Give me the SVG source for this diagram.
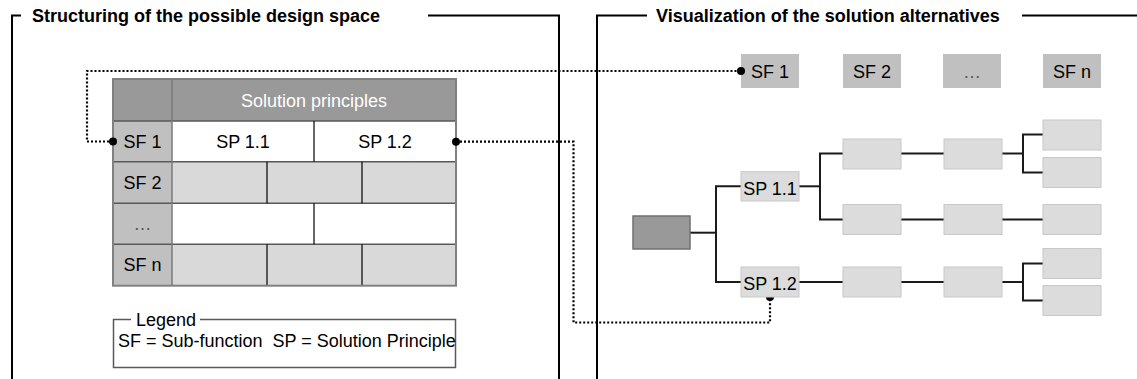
<svg xmlns="http://www.w3.org/2000/svg" width="1137" height="379" viewBox="0 0 1137 379">
<style>
text{font-family:"Liberation Sans",Arial,sans-serif;font-size:18px;fill:#000}
.title{font-weight:bold}
.frame{fill:none;stroke:#000;stroke-width:2}
.sfc{fill:#c0c0c0}
.hdr{fill:#999}
.gc{fill:#d9d9d9}
.wc{fill:#fff}
.rowl{stroke:#595959;stroke-width:1.5}
.split{stroke:#000;stroke-width:1.2}
.sfbox{fill:#c0c0c0}
.tb{fill:#dcdcdc;stroke:#c8c8c8;stroke-width:1}
.dark{fill:#999;stroke:#707070;stroke-width:1.5}
.con{fill:none;stroke:#1a1a1a;stroke-width:2}
.dot{fill:none;stroke:#000;stroke-width:2.2;stroke-dasharray:2 2}
.c{text-anchor:middle}
.ell{fill:#555}
</style>

<g id="frame-left">
<polyline class="frame" points="21,15.5 12,15.5 12,379"/>
<polyline class="frame" points="428,15.5 559,15.5 559,379"/>
<text class="title" x="32" y="22">Structuring of the possible design space</text>
</g>

<g id="frame-right">
<polyline class="frame" points="647,15.5 597,15.5 597,379"/>
<line class="frame" x1="1022" y1="15.5" x2="1137" y2="15.5"/>
<text class="title" x="656" y="22">Visualization of the solution alternatives</text>
</g>

<g id="table">
<rect class="hdr" x="113" y="79" width="343" height="42"/>
<rect class="sfc" x="113" y="121" width="59" height="164.7"/>
<rect class="wc" x="172" y="121" width="284" height="40.7"/>
<rect class="gc" x="172" y="161.7" width="284" height="41.6"/>
<rect class="wc" x="172" y="203.3" width="284" height="41"/>
<rect class="gc" x="172" y="244.3" width="284" height="41.4"/>
<line class="rowl" x1="113" y1="121" x2="456" y2="121"/>
<line class="rowl" x1="113" y1="161.7" x2="456" y2="161.7"/>
<line class="rowl" x1="113" y1="203.3" x2="456" y2="203.3"/>
<line class="rowl" x1="113" y1="244.3" x2="456" y2="244.3"/>
<line x1="172" y1="79" x2="172" y2="285.7" stroke="#7a7a7a" stroke-width="1.5"/>
<line class="split" x1="314" y1="121" x2="314" y2="161.7"/>
<line class="split" x1="267" y1="161.7" x2="267" y2="203.3"/>
<line class="split" x1="362" y1="161.7" x2="362" y2="203.3"/>
<line class="split" x1="314" y1="203.3" x2="314" y2="244.3"/>
<line class="split" x1="267" y1="244.3" x2="267" y2="285.7"/>
<line class="split" x1="362" y1="244.3" x2="362" y2="285.7"/>
<rect x="113" y="79" width="343" height="206.7" fill="none" stroke="#808080" stroke-width="2"/>
<text class="c" x="314" y="106.5" style="fill:#fff">Solution principles</text>
<text class="c" x="142.5" y="148">SF 1</text>
<text class="c" x="243" y="148">SP 1.1</text>
<text class="c" x="385" y="148">SP 1.2</text>
<text class="c" x="142.5" y="189">SF 2</text>
<text class="c ell" x="142.5" y="230">…</text>
<text class="c" x="142.5" y="271">SF n</text>
</g>

<g id="legend">
<polyline points="131,319.5 113.5,319.5 113.5,367.5 455.5,367.5 455.5,319.5 200,319.5" fill="none" stroke="#595959" stroke-width="1.5"/>
<text x="136" y="326">Legend</text>
<text x="118" y="347" xml:space="preserve">SF = Sub-function  SP = Solution Principle</text>
</g>

<g id="sf-row">
<g id="sf1"><rect class="sfbox" x="741" y="54" width="58" height="34"/><text class="c" x="770" y="78">SF 1</text></g>
<g id="sf2"><rect class="sfbox" x="843" y="54" width="58" height="34"/><text class="c" x="872" y="78">SF 2</text></g>
<g id="sfdots"><rect class="sfbox" x="943" y="54" width="58" height="34"/><text class="c ell" x="972" y="78">…</text></g>
<g id="sfn"><rect class="sfbox" x="1043" y="54" width="58" height="34"/><text class="c" x="1072" y="78">SF n</text></g>
</g>

<g id="connectors">
<polyline class="con" points="690,232.7 716,232.7"/>
<polyline class="con" points="741,186.3 716,186.3 716,282 741,282"/>
<polyline class="con" points="799,186.3 820,186.3"/>
<polyline class="con" points="843,153.5 820,153.5 820,219.5 843,219.5"/>
<line class="con" x1="901" y1="153.5" x2="944" y2="153.5"/>
<line class="con" x1="1002" y1="153.5" x2="1023" y2="153.5" stroke-width="2.5"/>
<polyline class="con" points="1043,134.5 1023,134.5 1023,172.5 1043,172.5"/>
<line class="con" x1="901" y1="219.5" x2="944" y2="219.5"/>
<line class="con" x1="1002" y1="219.5" x2="1043" y2="219.5"/>
<line class="con" x1="799" y1="282" x2="843" y2="282"/>
<line class="con" x1="901" y1="282" x2="944" y2="282"/>
<line class="con" x1="1002" y1="282" x2="1023" y2="282" stroke-width="2.5"/>
<polyline class="con" points="1043,263.5 1023,263.5 1023,300.5 1043,300.5"/>
<polyline class="dot" points="113,141.5 87,141.5 87,71 741,71"/>
<polyline class="dot" points="456,141.7 573.5,141.7 573.5,322.5 770,322.5 770,297"/>
<circle cx="113" cy="141.5" r="4"/>
<circle cx="741" cy="71" r="4"/>
<circle cx="456" cy="141.7" r="4"/>
<circle cx="770" cy="297" r="4"/>
</g>

<g id="tree-root"><rect class="dark" x="633" y="216" width="57" height="33"/></g>
<g id="sp11"><rect class="tb" x="741" y="171.7" width="58" height="29.3"/><text class="c" x="770" y="194.5">SP 1.1</text></g>
<g id="sp12"><rect class="tb" x="741" y="267" width="58" height="30"/><text class="c" x="770" y="290">SP 1.2</text></g>
<g id="n-a2"><rect class="tb" x="843" y="139" width="58" height="30"/></g>
<g id="n-a3"><rect class="tb" x="944" y="139" width="58" height="30"/></g>
<g id="n-a4"><rect class="tb" x="1043" y="120" width="58" height="30"/></g>
<g id="n-a5"><rect class="tb" x="1043" y="157.5" width="58" height="30"/></g>
<g id="n-b2"><rect class="tb" x="843" y="204.5" width="58" height="30"/></g>
<g id="n-b3"><rect class="tb" x="944" y="204.5" width="58" height="30"/></g>
<g id="n-b4"><rect class="tb" x="1043" y="204.5" width="58" height="30"/></g>
<g id="n-c2"><rect class="tb" x="843" y="267" width="58" height="30"/></g>
<g id="n-c3"><rect class="tb" x="944" y="267" width="58" height="30"/></g>
<g id="n-c4"><rect class="tb" x="1043" y="248.5" width="58" height="30"/></g>
<g id="n-c5"><rect class="tb" x="1043" y="285.5" width="58" height="30"/></g>
</svg>
